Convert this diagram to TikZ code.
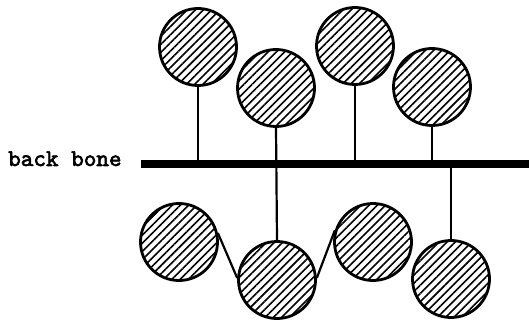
\documentclass[tikz,border=0pt]{standalone}
\usepackage{fontspec}
\newfontfamily\lblfont{lmmono10-regular.otf}[FakeBold=2.5]
\usetikzlibrary{patterns.meta}
\begin{document}
\begin{tikzpicture}[x=1pt,y=-1pt,
  station/.style={circle, draw, line width=2.8pt, minimum size=77pt, inner sep=0pt,
    pattern={Lines[angle=45, distance=5.8pt, line width=1.6pt]}},
  link/.style={line width=2.2pt},
  bus/.style={line width=8pt},
  lbl/.style={font=\lblfont\fontsize{24}{26}\selectfont, inner sep=0pt, anchor=base west}]
\useasboundingbox (0,0) rectangle (529,320);
\coordinate (bbL) at (141,164);
\coordinate (bbR) at (529,164);
\node[lbl] (label) at (8,166) {back bone};
\node[station] (t1) at (198,47) {};
\node[station] (t2) at (276,88) {};
\node[station] (t3) at (355,46) {};
\node[station] (t4) at (432,87) {};
\node[station] (b1) at (179,242) {};
\node[station] (b2) at (277,280) {};
\node[station] (b3) at (373,242) {};
\node[station] (b4) at (451,279) {};
\draw[link] (t1.south) -- (t1.south |- bbL);
\draw[link] (t2.south) -- (b2.north);
\draw[link] (t3.south) -- (t3.south |- bbL);
\draw[link] (t4.south) -- (t4.south |- bbL);
\draw[link] (b4.north) -- (b4.north |- bbL);
\draw[link] (b1.13) -- (b2.177);
\draw[link] (b2.3) -- (b3.163);
\draw[bus] (bbL) -- (bbR);
\end{tikzpicture}
\end{document}
